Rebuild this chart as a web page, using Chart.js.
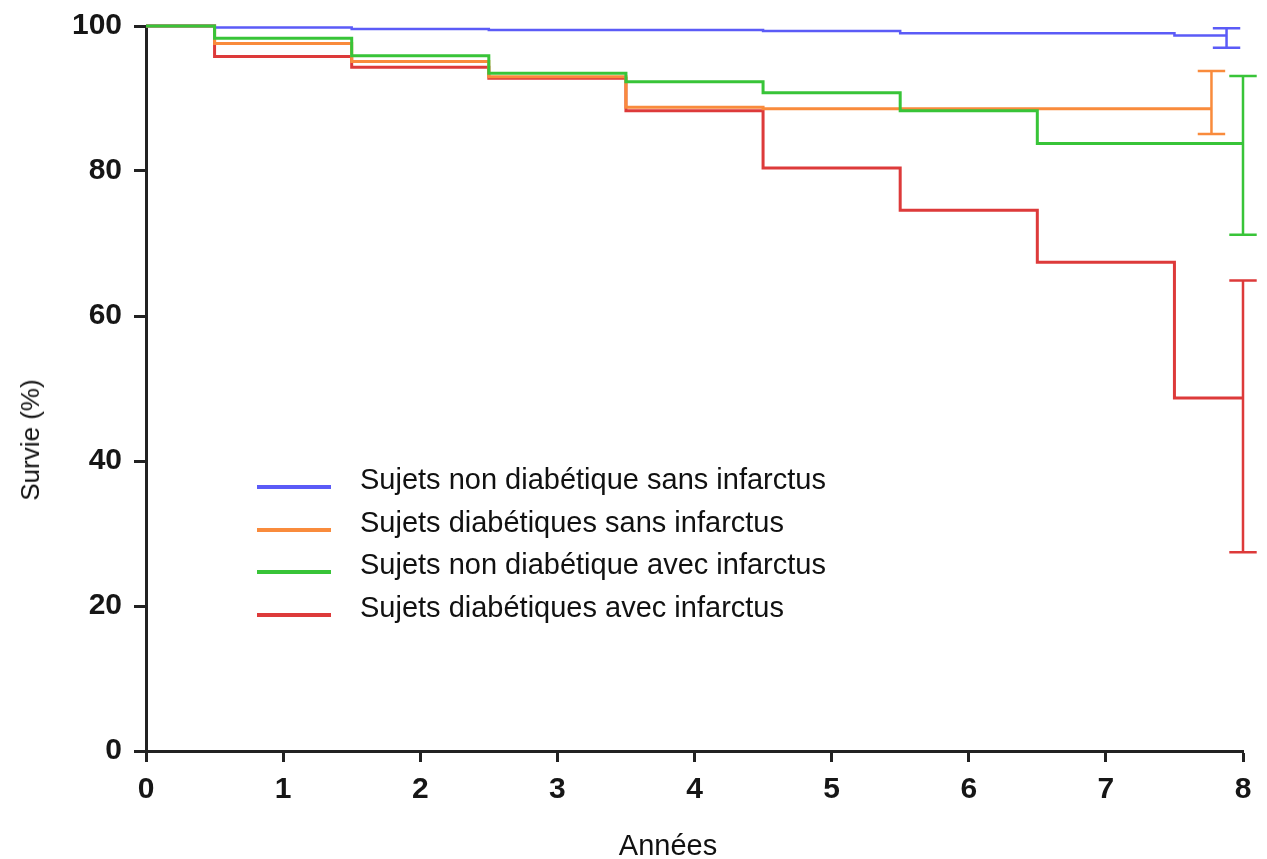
<!DOCTYPE html>
<html>
<head>
<meta charset="utf-8">
<script src="https://cdn.jsdelivr.net/npm/chart.js@4.4.0/dist/chart.umd.min.js"></script>
<style>
    body { margin: 0; background: #fff; }
    #wrap { position: relative; width: 1267px; height: 859px; font-family: Arial, "Liberation Sans", sans-serif; color: #111; }
    #survie { position: absolute; left: 0; top: 0; }
    .axisTitle { position: absolute; white-space: nowrap; line-height: 1; }
    #ylab { left: 30px; top: 440px; font-size: 26px; transform: translate(-50%, -50%) rotate(-90deg); }
    #xlab { left: 668px; top: 845px; font-size: 29px; transform: translate(-50%, -50%); }
    .legRow { position: absolute; left: 257px; height: 30px; }
    .legLine { position: absolute; left: 0; width: 74px; height: 4px; }
    .legText { position: absolute; left: 103px; font-size: 29px; line-height: 29px; white-space: nowrap; }
</style>
</head>
<body>
<div id="wrap">
    <canvas id="survie" width="1267" height="859"></canvas>
    <div id="ylab" class="axisTitle">Survie (%)</div>
    <div id="xlab" class="axisTitle">Années</div>
    <div id="legend"></div>
</div>
<script>
// temps des évènements (années) et survie (%) après chaque pas
const times = [0, 0.5, 1.5, 2.5, 3.5, 4.5, 5.5, 6.5, 7.5];
const nonDiabSansInf = [100, 99.8, 99.6, 99.45, 99.45, 99.3, 99.0, 99.0, 98.7];
const diabSansInf = [100, 97.6, 95.1, 93.0, 88.8, 88.6, 88.6, 88.6, 88.6];
const nonDiabAvecInf = [100, 98.3, 95.9, 93.5, 92.3, 90.8, 88.3, 83.8, 83.8];
const diabAvecInf = [100, 95.8, 94.3, 92.8, 88.3, 80.4, 74.6, 67.4, 48.7];

// fin de suivi et intervalle de confiance final
const endTimes = [7.88, 7.77, 8, 8];
const ciLow = [97.0, 85.1, 71.2, 27.4];
const ciHigh = [99.7, 93.8, 93.1, 64.9];

const labels = [
    'Sujets non diabétique sans infarctus',
    'Sujets diabétiques sans infarctus',
    'Sujets non diabétique avec infarctus',
    'Sujets diabétiques avec infarctus'
];
const colors = ['#5b5bf7', '#f98b3c', '#38c438', '#dd3a3a'];
const widths = [2.5, 3, 3, 3];
const xTicks = [0, 1, 2, 3, 4, 5, 6, 7, 8];
const yTicks = [0, 20, 40, 60, 80, 100];

const series = [nonDiabSansInf, diabSansInf, nonDiabAvecInf, diabAvecInf];
const CAP = 0.1;

var datasets = [];
for (var i = 0; i < series.length; i++) {
    var pts = times.map((t, k) => ({ x: t, y: series[i][k] }));
    pts.push({ x: endTimes[i], y: series[i][series[i].length - 1] });
    datasets.push({
        label: labels[i],
        data: pts,
        stepped: true,
        borderColor: colors[i],
        borderWidth: widths[i],
        pointRadius: 0,
        fill: false,
        clip: false,
        order: [1, 2, 0, 3][i]
    });
}
// barres d'erreur : segment vertical + deux chapeaux
for (var i = 0; i < series.length; i++) {
    const e = endTimes[i];
    datasets.push({
        label: labels[i] + ' IC',
        data: [
            { x: e, y: ciLow[i] }, { x: e, y: ciHigh[i] }, { x: e, y: null },
            { x: e - CAP, y: ciHigh[i] }, { x: e + CAP, y: ciHigh[i] }, { x: e, y: null },
            { x: e - CAP, y: ciLow[i] }, { x: e + CAP, y: ciLow[i] }
        ],
        borderColor: colors[i],
        borderWidth: 2.5,
        pointRadius: 0,
        spanGaps: false,
        fill: false,
        clip: false,
        order: 4
    });
}

const tickFont = { family: 'Arial, "Liberation Sans", sans-serif', size: 30, weight: 'bold' };

new Chart(document.getElementById('survie').getContext('2d'), {
    type: 'line',
    data: { datasets: datasets },
    options: {
        responsive: false,
        devicePixelRatio: 1,
        animation: false,
        layout: { padding: { top: 26, right: 24, left: 0, bottom: 0 } },
        plugins: {
            legend: { display: false },
            tooltip: { enabled: false }
        },
        scales: {
            x: {
                type: 'linear',
                min: 0,
                max: 8,
                afterBuildTicks: s => { s.ticks = xTicks.map(v => ({ value: v })); },
                ticks: { color: '#161616', font: tickFont, padding: 10, maxRotation: 0 },
                grid: { drawOnChartArea: false, tickLength: 11, tickWidth: 3, tickColor: '#222' },
                border: { color: '#222', width: 3 },
                afterFit: s => { s.height = 108; s.paddingLeft = 0; s.paddingRight = 0; }
            },
            y: {
                type: 'linear',
                min: 0,
                max: 100,
                afterBuildTicks: s => { s.ticks = yTicks.map(v => ({ value: v })); },
                ticks: { color: '#161616', font: tickFont, padding: 12 },
                grid: { drawOnChartArea: false, tickLength: 12, tickWidth: 3, tickColor: '#222' },
                border: { color: '#222', width: 3 },
                afterFit: s => { s.width = 146; s.paddingTop = 0; s.paddingBottom = 0; }
            }
        }
    }
});

// légende dans la zone du graphique
const legendRows = [487, 529.5, 572, 615];
var html = '';
for (var i = 0; i < labels.length; i++) {
    html += `<div class="legRow" style="top:${legendRows[i] - 15}px">
        <div class="legLine" style="top:13px;background:${colors[i]}"></div>
        <div class="legText" style="top:-7px">${labels[i]}</div>
    </div>`;
}
document.getElementById('legend').innerHTML = html;
</script>
</body>
</html>
